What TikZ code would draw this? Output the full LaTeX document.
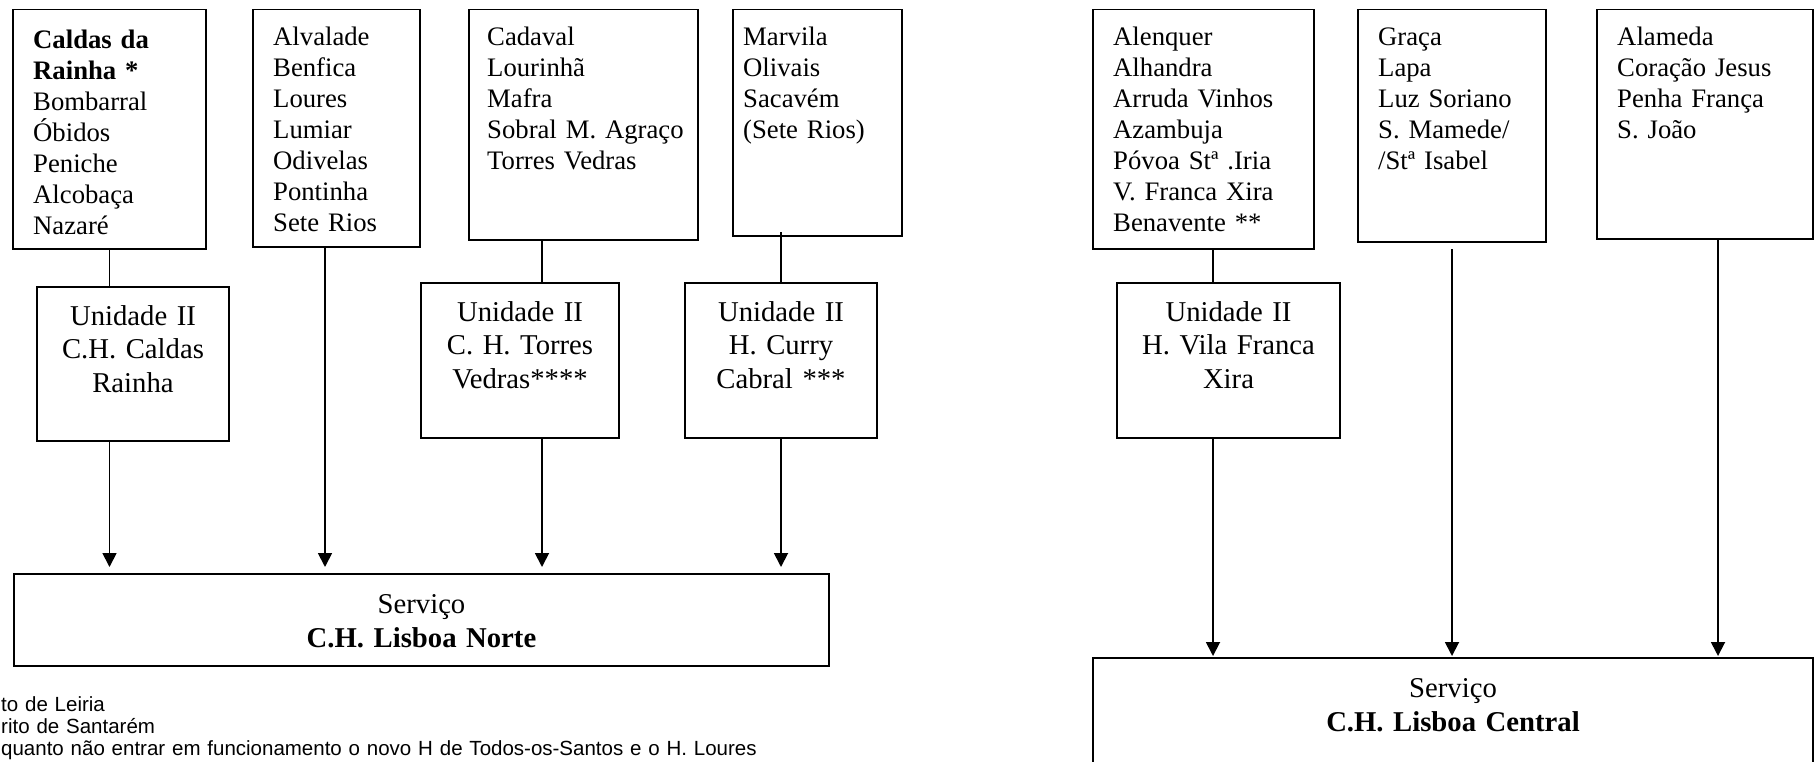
\documentclass[tikz,border=0pt]{standalone}
\usepackage{fontspec}
\setmainfont{Liberation Serif}
\newfontfamily\notefont{Liberation Sans}
\usetikzlibrary{arrows.meta}
\tikzset{
  box/.style={draw, line width=1.8pt, inner sep=0pt, outer sep=0pt, anchor=north west},
  bigbox/.style={box, line width=2.2pt},
  lst/.style={anchor=base west, inner sep=0pt, text width=300pt, align=left, font=\fontsize{26.7}{31}\selectfont},
  unid/.style={anchor=base, inner sep=0pt, text width=260pt, align=center, font=\fontsize{28.7}{33.5}\selectfont},
  serv/.style={anchor=base, inner sep=0pt, text width=400pt, align=center, font=\fontsize{28.7}{34}\selectfont},
  note/.style={anchor=base west, inner sep=0pt, text width=900pt, align=left, font=\notefont\fontsize{20.5}{22.3}\selectfont},
  link/.style={line width=1.8pt},
  arr/.style={line width=1.8pt, -{Triangle[length=14pt,width=14pt]}},
}
\begin{document}
\begin{tikzpicture}[x=1pt,y=-1pt]
\useasboundingbox (0,0) rectangle (1814,761);
\clip (0,0) rectangle (1814,761);
% top boxes
\node[box, minimum width=193pt, minimum height=239.5pt] (b1) at (13,9.5) {};
\node[box, minimum width=167pt, minimum height=237.5pt] (b2) at (253,9.5) {};
\node[box, minimum width=229pt, minimum height=230.5pt] (b3) at (469,9.5) {};
\node[box, minimum width=169pt, minimum height=226.5pt] (b4) at (733,9.5) {};
\node[box, minimum width=221pt, minimum height=239.5pt] (b5) at (1093,9.5) {};
\node[box, minimum width=188pt, minimum height=232.5pt] (b6) at (1358,9.5) {};
\node[box, minimum width=216pt, minimum height=229.5pt] (b7) at (1597,9.5) {};
% list texts
\node[lst] (t1) at (33,48) {{\bfseries Caldas da}\\{\bfseries Rainha *}\\Bombarral\\Óbidos\\Peniche\\Alcobaça\\Nazaré};
\node[lst] (t2) at (273,45) {Alvalade\\Benfica\\Loures\\Lumiar\\Odivelas\\Pontinha\\Sete Rios};
\node[lst] (t3) at (487,45) {Cadaval\\Lourinhã\\Mafra\\Sobral M. Agraço\\Torres Vedras};
\node[lst] (t4) at (743,45) {Marvila\\Olivais\\Sacavém\\(Sete Rios)};
\node[lst] (t5) at (1113,45) {Alenquer\\Alhandra\\Arruda Vinhos\\Azambuja\\Póvoa Stª .Iria\\V. Franca Xira\\Benavente **};
\node[lst] (t6) at (1378,45) {Graça\\Lapa\\Luz Soriano\\S. Mamede/\\/Stª Isabel};
\node[lst] (t7) at (1617,45) {Alameda\\Coração Jesus\\Penha França\\S. João};
% unidade boxes
\node[box, minimum width=192pt, minimum height=154pt] (u1) at (37,287) {};
\node[box, minimum width=198pt, minimum height=155pt] (u2) at (421,283) {};
\node[box, minimum width=192pt, minimum height=155pt] (u3) at (685,283) {};
\node[box, minimum width=223pt, minimum height=155pt] (u4) at (1117,283) {};
\node[unid] (tu1) at ([yshift=-38pt]u1.north) {Unidade II\\C.H. Caldas\\Rainha};
\node[unid] (tu2) at ([yshift=-38pt]u2.north) {Unidade II\\C. H. Torres\\Vedras****};
\node[unid] (tu3) at ([yshift=-38pt]u3.north) {Unidade II\\H. Curry\\Cabral ***};
\node[unid] (tu4) at ([yshift=-38pt]u4.north) {Unidade II\\H. Vila Franca\\Xira};
% servico boxes
\node[bigbox, minimum width=815pt, minimum height=92pt] (s1) at (14,574) {};
\node[bigbox, minimum width=720pt, minimum height=150pt] (s2) at (1093,658) {};
\node[serv] (ts1) at ([yshift=-39pt]s1.north) {Serviço\\\textbf{C.H. Lisboa Norte}};
\node[serv] (ts2) at ([yshift=-39pt]s2.north) {Serviço\\\textbf{C.H. Lisboa Central}};
% footnotes
\node[note] (n1) at (1,711) {to de Leiria\\rito de Santarém\\quanto não entrar em funcionamento o novo H de Todos-os-Santos e o H. Loures};
% connector x positions
\coordinate (x2) at (325,0);
\coordinate (x3) at (542,0);
\coordinate (x5) at (1213,0);
\coordinate (x7) at (1718,0);
% connectors
\draw[link] (b1.south) -- (b1.south |- u1.north);
\draw[arr, shorten >=7pt] (b1.south |- u1.south) -- (b1.south |- s1.north);
\draw[arr, shorten >=7pt] (b2.south -| x2) -- (s1.north -| x2);
\draw[link] (b3.south -| x3) -- (u2.north -| x3);
\draw[arr, shorten >=7pt] (u2.south -| x3) -- (s1.north -| x3);
\draw[link] (b4.south -| u3.north) ++(0,-4) -- (u3.north);
\draw[arr, shorten >=7pt] (u3.south) -- (u3.south |- s1.north);
\draw[link] (b5.south -| x5) -- (u4.north -| x5);
\draw[arr, shorten >=2pt] (u4.south -| x5) -- (s2.north -| x5);
\draw[arr, shorten >=2pt] (b6.south) ++(0,7) -- (b6.south |- s2.north);
\draw[arr, shorten >=2pt] (b7.south -| x7) -- (s2.north -| x7);
\end{tikzpicture}
\end{document}
